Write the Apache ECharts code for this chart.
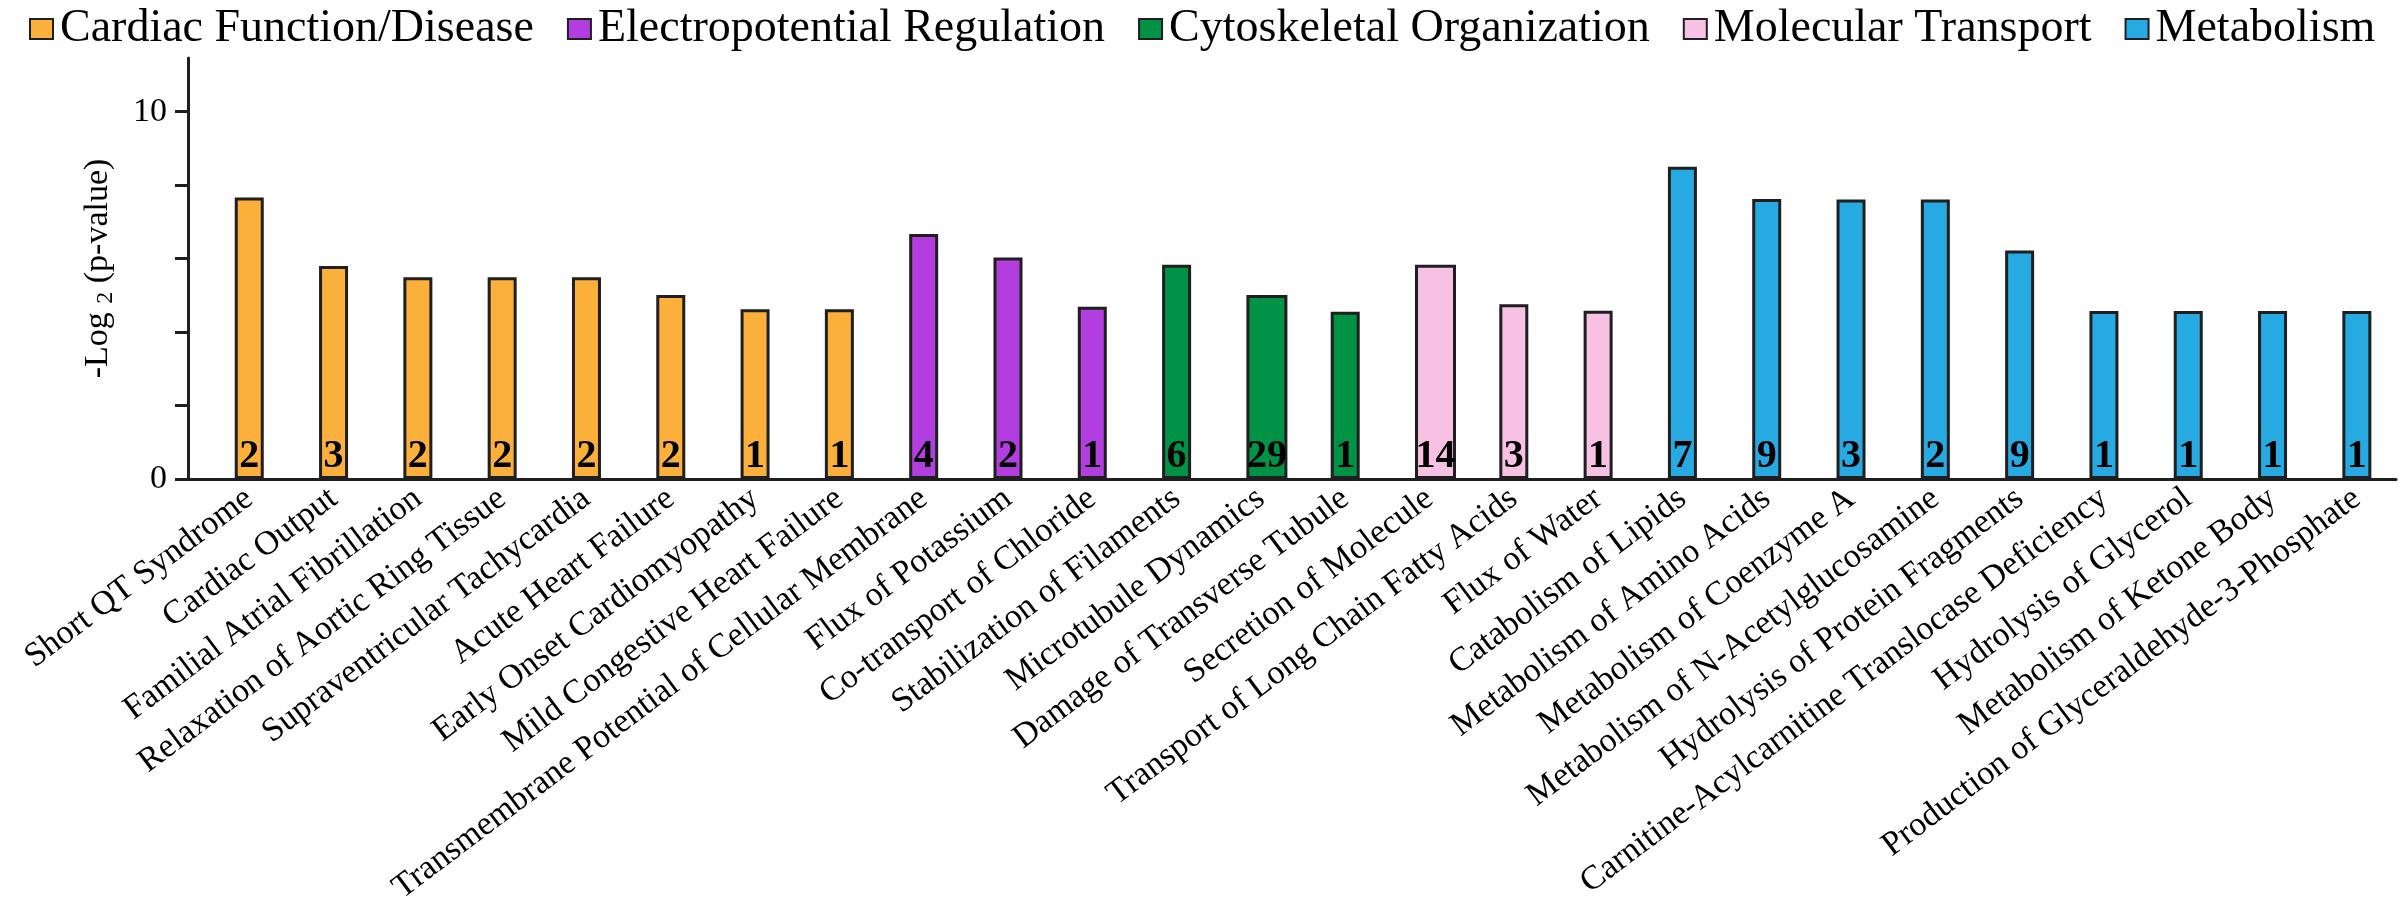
<!DOCTYPE html>
<html>
<head>
<meta charset="utf-8">
<script src="https://cdn.jsdelivr.net/npm/echarts@6/dist/echarts.min.js"></script>
<style>html,body{margin:0;padding:0;background:#fff}#c{width:2399px;height:918px}</style>
</head>
<body>
<div id="c"></div>
<script>
// ---- data ----
const categories = [
  'Short QT Syndrome', 'Cardiac Output', 'Familial Atrial Fibrillation', 'Relaxation of Aortic Ring Tissue',
  'Supraventricular Tachycardia', 'Acute Heart Failure', 'Early Onset Cardiomyopathy', 'Mild Congestive Heart Failure',
  'Transmembrane Potential of Cellular Membrane', 'Flux of Potassium', 'Co-transport of Chloride',
  'Stabilization of Filaments', 'Microtubule Dynamics', 'Damage of Transverse Tubule',
  'Secretion of Molecule', 'Transport of Long Chain Fatty Acids', 'Flux of Water',
  'Catabolism of Lipids', 'Metabolism of Amino Acids', 'Metabolism of Coenzyme A', 'Metabolism of N-Acetylglucosamine',
  'Hydrolysis of Protein Fragments', 'Carnitine-Acylcarnitine Translocase Deficiency', 'Hydrolysis of Glycerol',
  'Metabolism of Ketone Body', 'Production of Glyceraldehyde-3-Phosphate'
];
const values = [
  7.66, 5.80, 5.49, 5.49, 5.49, 5.01, 4.62, 4.62,
  6.67, 6.03, 4.69,
  5.83, 5.01, 4.55,
  5.83, 4.76, 4.58,
  8.50, 7.62, 7.61, 7.61, 6.22, 4.57, 4.57, 4.57, 4.57
];
const counts = [
  2, 3, 2, 2, 2, 2, 1, 1,
  4, 2, 1,
  6, 29, 1,
  14, 3, 1,
  7, 9, 3, 2, 9, 1, 1, 1, 1
];
const groupOf = [
  0, 0, 0, 0, 0, 0, 0, 0,
  1, 1, 1,
  2, 2, 2,
  3, 3, 3,
  4, 4, 4, 4, 4, 4, 4, 4, 4
];
const groupNames = ['Cardiac Function/Disease', 'Electropotential Regulation', 'Cytoskeletal Organization', 'Molecular Transport', 'Metabolism'];
const yTicks = [0, 2, 4, 6, 8, 10];
const yLabels = [0, 10];

// ---- styles ----
const groupColors = ['#FBB03B', '#B33EE0', '#009245', '#F6C1E2', '#27AAE1'];
const wideCategories = ['Microtubule Dynamics', 'Secretion of Molecule'];
const FONT = 'Liberation Serif, Times New Roman, serif';
const INK = '#1f1f1f';
const Y_MAX = 11.46;

function makeSeries(g, wide) {
  return {
    type: 'bar',
    name: groupNames[g],
    xAxisIndex: 1,
    yAxisIndex: 1,
    barWidth: wide ? 41 : 29,
    barGap: '-100%',
    data: categories.map((c, i) => {
      const isWide = wideCategories.indexOf(c) >= 0;
      return (groupOf[i] === g && isWide === wide) ? values[i] : '-';
    }),
    itemStyle: { color: groupColors[g], borderColor: INK, borderWidth: 3 },
    label: {
      show: true,
      position: 'insideBottom',
      distance: 2,
      formatter: p => String(counts[p.dataIndex]),
      fontFamily: FONT,
      fontWeight: 'bold',
      fontSize: 40,
      color: '#000'
    },
    emphasis: { disabled: true },
    animation: false
  };
}

const series = [];
// wide bars first so that narrow bars define the common left edge
groupNames.forEach((n, g) => {
  const has = categories.some((c, i) => groupOf[i] === g && wideCategories.indexOf(c) >= 0);
  if (has) series.push(makeSeries(g, true));
});
groupNames.forEach((n, g) => series.push(makeSeries(g, false)));

const chart = echarts.init(document.getElementById('c'), null, { renderer: 'canvas' });
chart.setOption({
  backgroundColor: '#fff',
  animation: false,
  legend: {
    data: groupNames,
    left: 24,
    top: 1,
    itemWidth: 23,
    itemHeight: 20,
    itemGap: 33,
    icon: 'rect',
    selectedMode: false,
    textStyle: { fontFamily: FONT, fontSize: 46, color: '#000', padding: [0, 0, 0, 2] }
  },
  grid: [
    { left: 188, right: 3, top: 58, bottom: 439, containLabel: false },
    { left: 207.1, right: -13.4, top: 58, bottom: 439, containLabel: false }
  ],
  xAxis: [
    {
      gridIndex: 0, type: 'value', min: 0, max: 1,
      axisLine: { show: true, lineStyle: { color: INK, width: 3 } },
      axisTick: { show: false }, axisLabel: { show: false }, splitLine: { show: false }
    },
    {
      gridIndex: 1, type: 'category', data: categories,
      axisLine: { show: false }, axisTick: { show: false }, splitLine: { show: false },
      axisLabel: {
        interval: 0, rotate: 37, margin: 16,
        fontFamily: FONT, fontSize: 34, color: '#000'
      }
    }
  ],
  yAxis: [
    {
      gridIndex: 0, type: 'value', min: 0, max: Y_MAX, interval: 2,
      axisLine: { show: true, lineStyle: { color: INK, width: 3 } },
      axisTick: { show: true, length: 13, lineStyle: { color: INK, width: 3 }, customValues: yTicks },
      axisLabel: { customValues: yLabels, margin: 21, fontFamily: FONT, fontSize: 34, color: '#000' },
      splitLine: { show: false },
      name: '{a|-Log }{s|2}{a| (p-value)}',
      nameLocation: 'middle',
      nameGap: 70,
      nameTextStyle: {
        rich: {
          a: { fontFamily: FONT, fontSize: 34, color: '#000', lineHeight: 40 },
          s: { fontFamily: FONT, fontSize: 24, color: '#000', lineHeight: 24, verticalAlign: 'bottom' }
        }
      }
    },
    {
      gridIndex: 1, type: 'value', min: 0, max: Y_MAX,
      show: false, splitLine: { show: false }
    }
  ],
  series: series
});
</script>
</body>
</html>
